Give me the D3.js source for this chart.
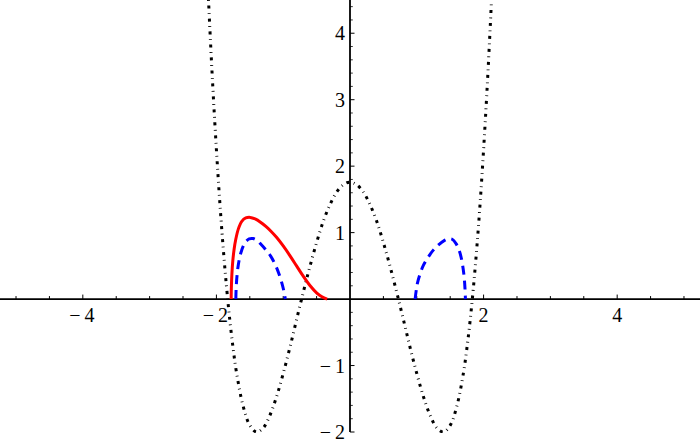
<!DOCTYPE html>
<html>
<head>
<meta charset="utf-8">
<script src="https://cdn.jsdelivr.net/npm/d3@7/dist/d3.min.js"></script>
<style>
  html, body { margin: 0; padding: 0; background: #fff; }
  svg { display: block; }
</style>
</head>
<body>
<svg id="chart" width="700" height="446"></svg>
<script>
// ---- data ----
const blackX = [-2.15, -2.1, -2.05, -2.0, -1.95, -1.9, -1.85, -1.8, -1.75, -1.7, -1.6, -1.5, -1.4, -1.3, -1.2, -1.1, -1.0, -0.9, -0.8, -0.7, -0.6, -0.5, -0.4, -0.3, -0.2, -0.1, 0,
                0.1, 0.2, 0.3, 0.4, 0.5, 0.6, 0.7, 0.8, 0.9, 1.0, 1.1, 1.2, 1.3, 1.4, 1.5, 1.6, 1.7, 1.75, 1.8, 1.85, 1.9, 1.95, 2.0, 2.05, 2.1, 2.15];
const blackY = [5.20, 4.11, 3.12, 2.25, 1.47, 0.79, 0.20, -0.31, -0.74, -1.10, -1.61, -1.90, -2.00, -1.94, -1.75, -1.47, -1.12, -0.73, -0.31, 0.10, 0.49, 0.85, 1.17, 1.42, 1.61, 1.72, 1.76,
                1.72, 1.61, 1.42, 1.17, 0.85, 0.49, 0.10, -0.31, -0.73, -1.12, -1.47, -1.75, -1.94, -2.00, -1.90, -1.61, -1.10, -0.74, -0.31, 0.20, 0.79, 1.47, 2.25, 3.12, 4.11, 5.20];

const redX = [-1.779, -1.776, -1.768, -1.755, -1.735, -1.71, -1.67, -1.62, -1.56, -1.494, -1.42, -1.34, -1.26, -1.18, -1.10, -1.00, -0.90, -0.80, -0.70, -0.60, -0.50, -0.42, -0.342];
const redY = [0, 0.18, 0.38, 0.57, 0.75, 0.90, 1.06, 1.17, 1.22, 1.229, 1.205, 1.157, 1.093, 1.017, 0.929, 0.799, 0.654, 0.499, 0.344, 0.204, 0.095, 0.035, 0];

const blueLeftX = [-1.709, -1.705, -1.695, -1.68, -1.655, -1.62, -1.57, -1.51, -1.45, -1.39, -1.33, -1.26, -1.19, -1.12, -1.06, -1.02, -0.99, -0.968];
const blueLeftY = [0, 0.15, 0.31, 0.46, 0.61, 0.74, 0.85, 0.905, 0.91, 0.88, 0.82, 0.74, 0.65, 0.52, 0.37, 0.24, 0.12, 0];

const blueRightX = [0.975, 0.99, 1.01, 1.05, 1.10, 1.17, 1.25, 1.33, 1.41, 1.47, 1.53, 1.59, 1.635, 1.67, 1.695, 1.712, 1.722, 1.728];
const blueRightY = [0, 0.12, 0.24, 0.38, 0.51, 0.63, 0.74, 0.82, 0.88, 0.905, 0.90, 0.83, 0.73, 0.60, 0.45, 0.30, 0.15, 0];

const xTickLabels = [-4, -2, 2, 4];
const yTickLabels = [-2, -1, 1, 2, 3, 4];
const xMinorTicks = [-5, -4.5, -4, -3.5, -3, -2.5, -2, -1.5, -1, -0.5, 0.5, 1, 1.5, 2, 2.5, 3, 3.5, 4, 4.5, 5];
const yMinorTicks = [-1.8, -1.6, -1.4, -1.2, -0.8, -0.6, -0.4, -0.2, 0.2, 0.4, 0.6, 0.8, 1.2, 1.4, 1.6, 1.8, 2.2, 2.4, 2.6, 2.8, 3.2, 3.4, 3.6, 3.8, 4.2, 4.4];

// ---- drawing ----
const W = 700, H = 446;
const FONT = "'Liberation Serif', 'Times New Roman', 'DejaVu Serif', serif";
const svg = d3.select("#chart");
svg.append("rect").attr("width", W).attr("height", H).attr("fill", "#fff");
const x = d3.scaleLinear().domain([-5.24, 5.24]).range([0, W]);
const y = d3.scaleLinear().domain([-2, 4.5]).range([432, 0]);

svg.append("defs").append("clipPath").attr("id", "clip")
  .append("rect").attr("x", 0).attr("y", 0).attr("width", W).attr("height", 433);

const x0 = x(0), y0 = y(0);

// axes lines
svg.append("line").attr("x1", 0).attr("x2", W).attr("y1", y0).attr("y2", y0)
  .attr("stroke", "#000").attr("stroke-width", 1.8);
svg.append("line").attr("x1", x0).attr("x2", x0).attr("y1", 0).attr("y2", y(-2))
  .attr("stroke", "#000").attr("stroke-width", 1.8);

// x ticks (upward)
svg.append("g").selectAll("line").data(xMinorTicks).join("line")
  .attr("x1", d => x(d)).attr("x2", d => x(d))
  .attr("y1", y0).attr("y2", d => y0 - (Number.isInteger(d / 2) ? 4.5 : 3))
  .attr("stroke", "#000").attr("stroke-width", 1);
// y ticks (rightward)
svg.append("g").selectAll("line").data(yTickLabels).join("line")
  .attr("x1", x0).attr("x2", x0 + 4.5).attr("y1", d => y(d)).attr("y2", d => y(d))
  .attr("stroke", "#000").attr("stroke-width", 1);
svg.append("g").selectAll("line").data(yMinorTicks).join("line")
  .attr("x1", x0).attr("x2", x0 + 2.8).attr("y1", d => y(d)).attr("y2", d => y(d))
  .attr("stroke", "#000").attr("stroke-width", 0.8);

const fmt = d => (d < 0 ? "\u2212\u2009" + Math.abs(d) : String(d));

// x labels
svg.append("g").selectAll("text").data(xTickLabels).join("text")
  .attr("x", d => x(d) - (d < 0 ? 1 : 0)).attr("y", y0 + 23)
  .attr("text-anchor", "middle")
  .attr("font-family", FONT).attr("font-size", 20).attr("fill", "#000")
  .text(fmt);
// y labels
svg.append("g").selectAll("text").data(yTickLabels).join("text")
  .attr("x", x0 - 5).attr("y", d => y(d) + 7)
  .attr("text-anchor", "end")
  .attr("font-family", FONT).attr("font-size", 20).attr("fill", "#000")
  .text(fmt);

// curves
const smooth = d3.line().x(d => x(d[0])).y(d => y(d[1])).curve(d3.curveCatmullRom.alpha(0.5));
const g = svg.append("g").attr("clip-path", "url(#clip)");

g.append("path").datum(d3.zip(blackX, blackY)).attr("d", smooth)
  .attr("fill", "none").attr("stroke", "#000").attr("stroke-width", 3)
  .attr("stroke-dasharray", "3,4.6,0.8,4.6");

g.append("path").datum(d3.zip(redX, redY)).attr("d", smooth)
  .attr("fill", "none").attr("stroke", "#ff0000").attr("stroke-width", 3);

[d3.zip(blueLeftX, blueLeftY), d3.zip(blueRightX, blueRightY)].forEach(pts => {
  g.append("path").datum(pts).attr("d", smooth)
    .attr("fill", "none").attr("stroke", "#0000ff").attr("stroke-width", 3)
    .attr("stroke-dasharray", "9,6");
});
</script>
</body>
</html>
